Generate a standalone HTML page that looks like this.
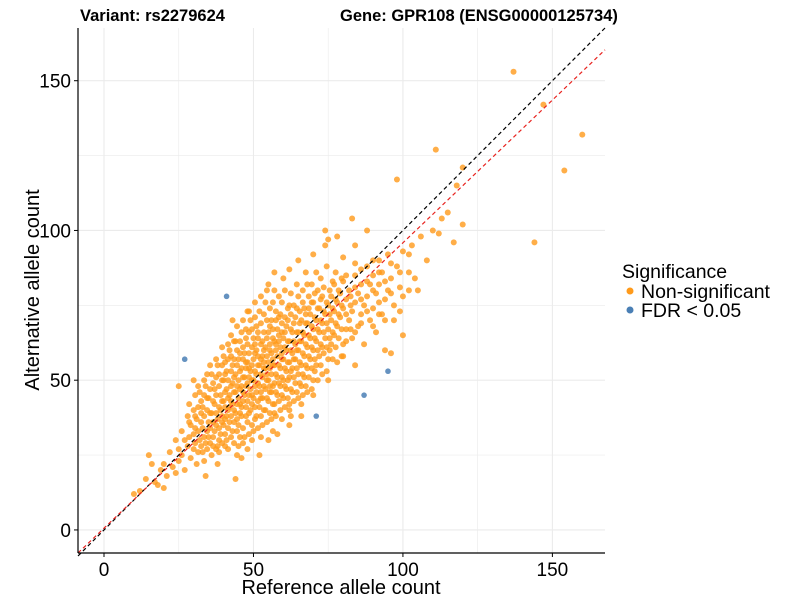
<!DOCTYPE html>
<html><head><meta charset="utf-8"><style>
body{margin:0;background:#fff;font-family:"Liberation Sans",Arial,sans-serif}
svg text{font-family:"Liberation Sans",Arial,sans-serif}
</style></head><body>
<svg id="chart" width="800" height="600">
<rect width="800" height="600" fill="#fff"/>
<text x="80" y="21" font-size="16.5" font-weight="bold">Variant: rs2279624</text>
<text x="340" y="21" font-size="16.5" font-weight="bold">Gene: GPR108 (ENSG00000125734)</text>
<g id="grid"></g><g id="pts"></g><g id="lines"></g><g id="axes"></g>
<text x="341" y="594" font-size="20" text-anchor="middle">Reference allele count</text>
<text transform="translate(39,290) rotate(-90)" font-size="20" text-anchor="middle">Alternative allele count</text>
<g>
<text x="622" y="278" font-size="19.5">Significance</text>
<circle cx="630" cy="291" r="3.5" fill="#ff9a1a"/>
<text x="641" y="298" font-size="19.5">Non-significant</text>
<circle cx="630" cy="310" r="3.5" fill="#4a7fb5"/>
<text x="641" y="317" font-size="19.5">FDR &lt; 0.05</text>
</g>
</svg>
<script>
const refCounts=[10,12,14,15,16,17,18,19,20,20,21,22,23,24,24,25,25,26,26,27,27,28,28,29,29,30,30,30,31,31,32,32,33,33,33,34,34,35,35,35,36,36,36,37,37,37,38,38,38,39,39,39,40,40,40,40,41,41,41,41,42,42,42,42,43,43,43,43,44,44,44,44,45,45,45,45,45,46,46,46,46,46,47,47,47,47,48,48,48,48,48,49,49,49,49,50,50,50,50,50,51,51,51,51,51,52,52,52,52,53,53,53,53,53,54,54,54,54,54,55,55,55,55,56,56,56,56,56,57,57,57,57,57,58,58,58,58,59,59,59,59,59,60,60,60,60,60,61,61,61,61,62,62,62,62,62,63,63,63,63,64,64,64,64,65,65,65,65,65,66,66,66,66,67,67,67,67,68,68,68,68,68,69,69,69,70,70,70,70,71,71,71,71,72,72,72,73,73,73,73,74,74,74,75,75,75,75,76,76,76,77,77,77,78,78,78,79,79,80,80,80,81,81,82,82,83,83,83,84,84,85,85,86,86,87,87,88,88,89,89,90,90,91,91,92,92,93,93,94,95,95,96,96,97,98,98,99,100,100,102,103,104,105,106,108,111,112,113,115,117,120,120,137,147,160,154,144,118,110,25,30,34,38,44,46,52,55,58,62,66,48,43,48,55,57,62,65,70,74,78,80,84,88,92,94,100,97,84,80,75,70,62,57,66];
const altCounts=[12,13,17,25,22,16,15,20,14,22,18,26,21,30,19,27,23,33,25,20,30,38,28,24,35,32,27,40,22,37,30,46,34,26,41,29,48,36,31,44,25,39,52,33,42,47,28,37,55,40,45,32,50,35,43,58,30,38,47,53,41,45,36,60,33,49,55,42,39,46,52,63,28,35,44,50,57,41,48,54,38,66,31,45,51,59,36,43,49,56,62,40,47,53,70,33,44,50,57,64,38,46,52,60,68,41,48,55,73,35,44,51,58,63,40,47,54,61,76,43,50,56,66,37,46,52,59,70,42,49,55,63,80,45,51,58,67,40,48,54,61,72,44,50,57,64,84,47,53,60,68,42,51,56,63,75,46,54,59,66,49,57,62,71,44,52,60,66,78,48,55,63,70,51,58,65,74,46,54,61,69,82,57,64,72,50,60,67,76,55,63,70,86,58,66,74,52,61,69,78,64,72,100,57,67,75,97,62,70,78,65,73,82,56,68,76,71,79,62,74,83,67,77,70,80,64,73,104,76,85,68,79,72,82,62,75,78,88,70,82,74,85,66,79,82,90,72,86,77,80,92,59,84,75,88,117,81,93,78,86,95,84,80,98,90,127,99,104,106,96,102,121,153,142,132,120,96,115,100,48,50,18,22,17,24,25,30,32,35,38,27,70,73,82,86,87,90,92,95,98,91,95,100,72,60,65,70,55,58,50,45,40,39,42];
const extraRef=[28.5,28.5,28.5,30.5,30.5,30.5,30.5,31.5,31.5,31.5,31.5,32.5,32.5,32.5,32.5,33.5,33.5,33.5,33.5,33.5,34.5,34.5,34.5,34.5,34.5,35.5,35.5,35.5,35.5,35.5,36.5,36.5,36.5,36.5,36.5,37.5,37.5,37.5,37.5,37.5,37.5,38.5,38.5,38.5,38.5,38.5,38.5,39.5,39.5,39.5,39.5,39.5,39.5,39.5,40.5,40.5,40.5,40.5,40.5,40.5,40.5,41.5,41.5,41.5,41.5,41.5,41.5,41.5,42.5,42.5,42.5,42.5,42.5,42.5,42.5,43.5,43.5,43.5,43.5,43.5,43.5,43.5,44.5,44.5,44.5,44.5,44.5,44.5,44.5,44.5,45.5,45.5,45.5,45.5,45.5,45.5,45.5,46.5,46.5,46.5,46.5,46.5,46.5,46.5,46.5,47.5,47.5,47.5,47.5,47.5,47.5,47.5,48.5,48.5,48.5,48.5,48.5,48.5,48.5,48.5,49.5,49.5,49.5,49.5,49.5,49.5,49.5,49.5,50.5,50.5,50.5,50.5,50.5,50.5,50.5,50.5,51.5,51.5,51.5,51.5,51.5,51.5,51.5,52.5,52.5,52.5,52.5,52.5,52.5,52.5,52.5,52.5,53.5,53.5,53.5,53.5,53.5,53.5,53.5,54.5,54.5,54.5,54.5,54.5,54.5,54.5,54.5,55.5,55.5,55.5,55.5,55.5,55.5,55.5,55.5,56.5,56.5,56.5,56.5,56.5,56.5,56.5,56.5,57.5,57.5,57.5,57.5,57.5,57.5,57.5,58.5,58.5,58.5,58.5,58.5,58.5,58.5,59.5,59.5,59.5,59.5,59.5,59.5,59.5,59.5,60.5,60.5,60.5,60.5,60.5,60.5,60.5,61.5,61.5,61.5,61.5,61.5,61.5,62.5,62.5,62.5,62.5,62.5,62.5,62.5,63.5,63.5,63.5,63.5,63.5,63.5,64.5,64.5,64.5,64.5,64.5,64.5,65.5,65.5,65.5,65.5,65.5,66.5,66.5,66.5,66.5,66.5,66.5,67.5,67.5,67.5,67.5,67.5,67.5,68.5,68.5,68.5,68.5,68.5,69.5,69.5,69.5,69.5,69.5,69.5,70.5,70.5,70.5,70.5,70.5,71.5,71.5,71.5,71.5,71.5,72.5,72.5,72.5,72.5,72.5,73.5,73.5,73.5,73.5,74.5,74.5,74.5,74.5,74.5,75.5,75.5,75.5,75.5,76.5,76.5,76.5,76.5,77.5,77.5,77.5,77.5,78.5,78.5,78.5,79.5,79.5,79.5,79.5,81,81,81,82.5,82.5,82.5,84,84,84,86,86,86,88,88,90,90,90,92,92,94,94,96,96,99,99,102,102];
const extraAlt=[31,36,42,29,34,45,38,26,33,41,48,28,36,39,43,31,38,45,50,23,27,33,40,44,52,29,34,39,47,55,31,36,43,49,28,27,35,39,45,51,57,30,34,41,48,52,26,29,36,38,43,50,55,61,32,37,41,46,52,56,28,34,40,44,50,57,62,27,31,38,43,48,53,58,65,29,36,40,46,51,57,63,33,37,42,48,55,60,68,25,31,39,42,47,53,59,63,34,43,46,51,57,61,70,29,38,41,48,54,56,64,67,32,39,45,51,54,59,66,73,35,42,45,50,55,61,67,30,37,41,48,53,59,62,71,76,34,43,49,55,58,64,66,38,44,46,52,57,62,69,78,31,40,48,54,56,60,66,72,36,44,50,52,58,64,70,80,39,46,48,54,60,62,68,74,42,48,55,57,64,67,76,33,38,46,52,60,62,70,73,43,49,55,63,65,71,78,45,51,57,59,66,69,76,37,41,48,54,61,66,71,80,44,50,56,63,70,74,47,53,60,67,72,79,38,43,51,57,63,69,75,46,54,60,66,74,82,49,56,63,69,73,45,52,59,66,76,80,48,55,62,69,72,86,51,58,65,74,78,47,54,61,68,76,82,53,57,64,71,79,50,60,67,74,80,55,62,70,77,84,59,66,73,81,53,61,69,76,88,60,64,72,80,57,66,74,83,61,69,77,86,64,72,80,58,67,75,84,63,72,85,67,75,78,66,81,89,69,77,87,73,83,68,80,90,76,86,70,83,79,89,73,86,80,92];
const sigRef=[41,27,95,71,87];
const sigAlt=[78,57,53,38,45];
const ticks=[0,50,100,150];
const NS='http://www.w3.org/2000/svg';
const X0=-8.7,X1=167.6,Y0=-7.7,Y1=167.6,L=78,R=605,T=28,B=553;
const sx=v=>L+(v-X0)/(X1-X0)*(R-L);
const sy=v=>B-(v-Y0)/(Y1-Y0)*(B-T);
function mk(tag,at,parent){const e=document.createElementNS(NS,tag);for(const k in at)e.setAttribute(k,at[k]);document.getElementById(parent).appendChild(e);return e;}
for(let v=-25;v<=175;v+=25){
  if(v<X0||v>X1)continue;
  const major=v%50===0;
  const g1=mk('line',{x1:sx(v),x2:sx(v),y1:T,y2:B,stroke:'#ebebeb','stroke-width':major?1.1:0.6},'grid');
  
  
  const g2=mk('line',{x1:L,x2:R,y1:sy(v),y2:sy(v),stroke:'#ebebeb','stroke-width':major?1.1:0.6},'grid');
  
  
}
const allRef=refCounts.concat(extraRef);
const allAlt=altCounts.concat(extraAlt);
for(let i=0;i<allRef.length;i++){
  const c=mk('circle',{cx:sx(allRef[i]),cy:sy(allAlt[i]),r:3,fill:'#ff9a1a','fill-opacity':0.8},'pts');
  
  
}
for(let i=0;i<sigRef.length;i++){
  const c=mk('circle',{cx:sx(sigRef[i]),cy:sy(sigAlt[i]),r:2.8,fill:'#4a7fb5','fill-opacity':0.85},'pts');
  
  
}
const idl=mk('line',{x1:sx(X0),y1:sy(X0),x2:sx(X1),y2:sy(X1),stroke:'#000','stroke-width':1.2,'stroke-dasharray':'4,3'},'lines');


const fit=mk('line',{x1:sx(X0),y1:sy(-7.7),x2:sx(X1),y2:sy(160.3),stroke:'#e8231f','stroke-width':1.2,'stroke-dasharray':'4,3'},'lines');


const ax=mk('line',{x1:L,x2:L,y1:T,y2:B,stroke:'#000','stroke-width':1.2},'axes');


const ax2=mk('line',{x1:L,x2:R,y1:B,y2:B,stroke:'#000','stroke-width':1.2},'axes');


ticks.forEach(t=>{
  mk('line',{x1:sx(t),x2:sx(t),y1:B,y2:B+4,stroke:'#000'},'axes');
  const tx=mk('text',{x:sx(t),y:B+23,'font-size':19,'text-anchor':'middle'},'axes');tx.textContent=t;
  
  
  mk('line',{x1:L-4,x2:L,y1:sy(t),y2:sy(t),stroke:'#000'},'axes');
  const ty=mk('text',{x:L-7,y:sy(t)+7,'font-size':19,'text-anchor':'end'},'axes');ty.textContent=t;
  
  
});
</script>
</body></html>
